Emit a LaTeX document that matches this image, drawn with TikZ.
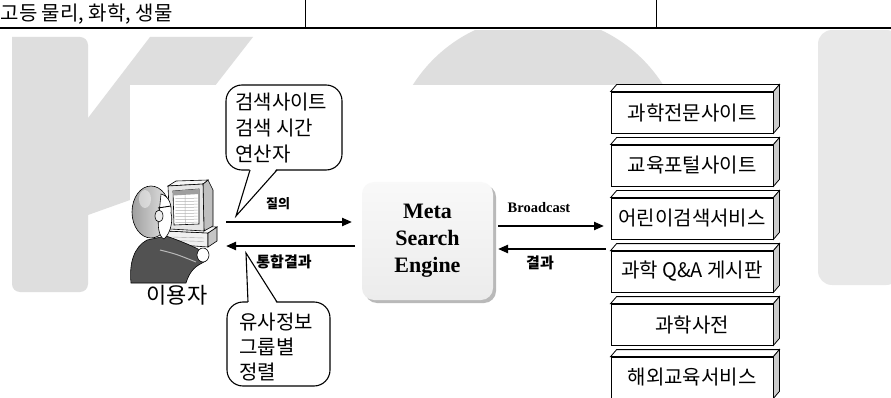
\documentclass[tikz,border=0pt]{standalone}
\usepackage{fontspec}
\setmainfont{Liberation Serif}
\newfontfamily\kr{Noto Sans CJK KR}
\usetikzlibrary{arrows.meta,shadows,calc}

\begin{document}
\begin{tikzpicture}[x=1pt,y=-1pt,
  wm/.style={fill=black!13,draw=none},
  bubble/.style={draw=black,line width=1.1pt,fill=white,rounded corners=16pt},
  tailline/.style={draw=black,line width=1.1pt,line join=miter},
  bubtext/.style={font=\kr\fontsize{20}{26}\selectfont,align=left,anchor=north west,inner sep=0pt},
  flow/.style={line width=2.2pt,-{Triangle[length=10pt,width=8pt]}},
  lbl/.style={font=\kr\bfseries\fontsize{13}{15}\selectfont,inner sep=0pt},
  sitebox/.style={draw=black,line width=0.8pt,fill=white,minimum width=162pt,minimum height=41pt,
                  font=\kr\fontsize{20}{22}\selectfont,inner sep=0pt},
  art/.style={line width=0.6pt,draw=black},
]
\useasboundingbox (0,0) rectangle (891,398);
\fill[white] (0,0) rectangle (891,398);

% faint K, C, I letters in the background
\begin{scope}
  \clip (0,31) rectangle (891,398);
  \fill[wm,rounded corners=8pt] (12,37) -- (12,292) -- (88,292) -- (88,37) [sharp corners] -- cycle;
  \fill[wm] (150,37) -- (253,37) -- (130,195) -- (130,200) -- (88,215) -- (88,118) -- cycle;
  \fill[wm] (538,164) circle (148);
  \fill[black!9,rounded corners=14pt] (818,285) -- (818,30) -- (900,30) -- (900,285) -- cycle;
\end{scope}

% white panel of the figure
\fill[white] (130,85) rectangle (812,398);

% table row above the figure
\draw[line width=1.3pt] (0,28) -- (891,28);
\draw[line width=0.9pt] (305,0) -- (305,28);
\draw[line width=0.9pt] (656,0) -- (656,28);
\node[anchor=base west,font=\kr\fontsize{20}{22}\selectfont,inner sep=0pt] (subj) at (0.5,21) {고등 물리,\ 화학,\ 생물};

% ---------- user at the computer ----------
\begin{scope}
  % computer case
  \filldraw[art,fill=gray!12] (166,231) -- (208,233) -- (208,247) -- (166,244) -- cycle;
  \filldraw[art,fill=gray!45] (208,233) -- (217,227) -- (217,241) -- (208,247) -- cycle;
  \filldraw[art,fill=gray!5] (166,231) -- (175,226) -- (217,227) -- (208,233) -- cycle;
  \draw[gray!70] (172,237) -- (204,238) (172,240.5) -- (204,241.5);
  % monitor
  \filldraw[art,fill=gray!50] (203,184) -- (208,180) -- (213,190) -- (213,226) -- (204,231) -- cycle;
  \filldraw[art,fill=gray!8] (168,186) -- (176,181) -- (208,180) -- (203,184) -- cycle;
  \filldraw[art,fill=gray!20] (168,186) -- (203,184) -- (204,231) -- (170,229) -- cycle;
  \filldraw[art,fill=white] (173,191) -- (199,189) -- (199,224) -- (174,225) -- cycle;
  \fill[gray!75] (173,191) -- (199,189) -- (199,194) -- (173,195.5) -- cycle;
  \foreach \yy in {198.5,201.5,...,222.5} \draw[gray!60,line width=0.5pt] (175.5,\yy) -- (197.5,\yy-0.3);
  \draw[gray!60,line width=0.5pt] (185,195.5) -- (185.3,224);
  % jacket and arm
  \filldraw[art,fill=black!68] (131,283) .. controls (129,263) and (134,247) .. (147,240)
     -- (166,236) .. controls (178,240) and (190,245) .. (198,249)
     -- (204,262) .. controls (196,266) and (190,270) .. (186,283) -- cycle;
  \draw[gray!55,line width=1pt] (160,250) .. controls (176,254) .. (196,262);
  % hand
  \filldraw[art,fill=white] (203,255) ellipse (6 and 7);
  % head with shaded hair
  \shade[left color=gray!75,right color=gray!20] (151,212) ellipse (19 and 26);
  \draw[art] (151,212) ellipse (19 and 26);
  \fill[white,opacity=0.45] (145,199) ellipse (6 and 9);
  \filldraw[art,fill=white] (161,194) .. controls (169,196) and (172,205) .. (171,213)
     .. controls (173,220) and (171,233) .. (164,239)
     .. controls (159,237) and (157,226) .. (159,214) -- cycle;
  \filldraw[art,fill=gray!15] (159,216) ellipse (4 and 6);
  \draw[line width=0.9pt] (158,208) -- (171,206);
\end{scope}
\node[font=\kr\fontsize{22}{24}\selectfont,inner sep=0pt] (user) at (177,295) {이용자};

% ---------- speech bubbles ----------
\draw[bubble] (226,85) rectangle (342,170);
\fill[white] (250,168.2) -- (236,216) -- (277,168.2) -- cycle;
\draw[tailline] (250,170) -- (236,216) -- (277,170);
\node[bubtext] (askopts) at (235,93) {검색사이트\\검색 시간\\연산자};

\draw[bubble] (227,302) rectangle (330,386);
\fill[white] (248,303.8) -- (246,253) -- (277,303.8) -- cycle;
\draw[tailline] (248,302) -- (246,253) -- (277,302);
\node[bubtext,font=\kr\fontsize{20}{25}\selectfont] (resopts) at (239,313) {유사정보\\그룹별\\정렬};

% ---------- meta search engine ----------
\node[rounded corners=12pt,minimum width=131pt,minimum height=118pt,
      top color=gray!5,bottom color=gray!15,
      drop shadow={shadow xshift=3pt,shadow yshift=-3pt,fill=gray!55,opacity=1},
      align=center,font=\bfseries\fontsize{22}{27}\selectfont] (engine) at (427.5,241) {Meta\\Search\\Engine};

% ---------- target sites ----------
\foreach \i/\txt in {1/과학전문사이트,2/교육포털사이트,3/어린이검색서비스,4/과학 Q\&A 게시판,5/과학사전,6/해외교육서비스}{
  \node[sitebox] (s\i) at (692,{92+53*(\i-1)+20.5}) {\txt};
  \filldraw[line width=0.8pt,fill=white] (s\i.north west) -- ++(6,-7) -- ([shift={(6,-7)}]s\i.north east) -- (s\i.north east) -- cycle;
  \filldraw[line width=0.8pt,fill=gray!40] (s\i.north east) -- ++(6,-7) -- ([shift={(6,-7)}]s\i.south east) -- (s\i.south east) -- cycle;
}

% ---------- message flows ----------
\coordinate (qa) at (226,222);
\coordinate (qb) at (352,222);
\coordinate (ra) at (355,246);
\coordinate (rb) at (226,246);
\coordinate (ba) at (498,226);
\coordinate (bb) at (604,226);
\coordinate (ca) at (606,249);
\coordinate (cb) at (498,249);
\draw[flow] (qa) -- (qb);
\draw[flow] (ra) -- (rb);
\draw[flow] (ba) -- (bb);
\draw[flow] (ca) -- (cb);
\node[lbl] (qlbl) at (278,204) {질의};
\node[lbl,font=\kr\bfseries\fontsize{15}{17}\selectfont] (rlbl) at (284,262) {통합결과};
\node[inner sep=0pt,font=\bfseries\fontsize{14.5}{16}\selectfont] (blbl) at (539,208) {Broadcast};
\node[lbl,font=\kr\bfseries\fontsize{15}{17}\selectfont] (clbl) at (540,263) {결과};
\end{tikzpicture}
\end{document}
